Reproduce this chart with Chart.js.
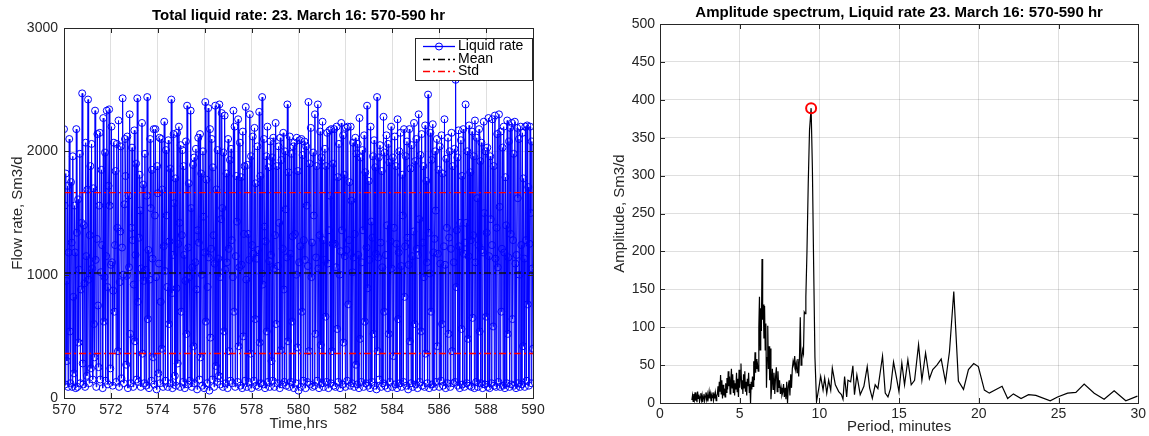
<!DOCTYPE html>
<html lang="en">
<head>
<meta charset="UTF-8">
<title>Total liquid rate and amplitude spectrum</title>
<script src="https://cdn.jsdelivr.net/npm/chart.js"></script>
<style>
  body { margin: 0; background: #fff; }
  #wrap { position: relative; width: 1149px; height: 436px; }
  canvas { position: absolute; top: 0; }
  #rateChart { left: 0; }
  #specChart { left: 575px; }
</style>
</head>
<body>
<div id="wrap">
  <canvas id="rateChart" width="575" height="436"></canvas>
  <canvas id="specChart" width="574" height="436"></canvas>
</div>
<script>
// ---- left panel: liquid rate, one sample every 0.025 hr from 570 hr ----
const startHr = 570;
const stepHr = 0.025;
const liquidRate = [
  2180, 1560, 110, 1820, 950, 300, 1720, 90, 1180, 2100, 540, 120, 1750, 1260, 90, 1960, 820, 200, 1560, 1180,
  80, 2180, 1340, 90, 1610, 450, 1040, 1980, 120, 880, 1420, 2470, 280, 110, 1400, 930, 90, 2070, 1150, 180,
  1690, 2420, 960, 120, 1320, 1880, 240, 2060, 1050, 150, 1700, 600, 330, 2330, 1120, 90, 1290, 2140, 750, 250,
  1560, 2150, 150, 1020, 1850, 1240, 80, 2270, 620, 980, 1990, 140, 1150, 2330, 900, 110, 1720, 2340, 1560, 240,
  1080, 2200, 1100, 100, 870, 2070, 700, 1240, 1840, 130, 2060, 1380, 380, 2250, 90, 940, 1350, 2040, 160, 1220,
  2430, 1000, 120, 1570, 2100, 1800, 270, 990, 2120, 80, 1640, 1060, 2300, 520, 120, 1380, 2030, 1280, 90, 920,
  2170, 460, 1160, 1900, 150, 2430, 780, 130, 1300, 1810, 1520, 90, 1050, 2230, 360, 1730, 950, 120, 1980, 1040,
  100, 1640, 2440, 640, 1200, 80, 960, 2100, 1540, 140, 1850, 1130, 330, 2180, 110, 1480, 2180, 980, 70, 1880,
  1660, 200, 1090, 2110, 120, 780, 2100, 400, 1690, 90, 1230, 2240, 1030, 140, 2010, 1480, 900, 90, 2090, 600,
  1270, 1860, 120, 2420, 850, 80, 1160, 2140, 1580, 180, 1780, 100, 890, 2150, 280, 1250, 2200, 1420, 90, 2050,
  700, 1320, 2010, 130, 1880, 1160, 80, 950, 2080, 520, 2370, 110, 1220, 1740, 980, 140, 2330, 1540, 90, 1060,
  1890, 420, 1950, 120, 1100, 2020, 880, 70, 1360, 2110, 1260, 150, 2140, 330, 1820, 1000, 100, 2000, 1470, 80,
  1180, 2400, 620, 1770, 120, 900, 2350, 1140, 60, 2180, 490, 1210, 2100, 150, 1870, 1320, 90, 1090, 2370, 260,
  1690, 130, 2010, 1130, 180, 2380, 980, 110, 1450, 2310, 1540, 90, 1990, 540, 2290, 1040, 120, 1820, 1100, 80,
  2100, 1210, 380, 1930, 140, 2020, 1280, 120, 980, 2330, 700, 2200, 90, 1150, 1800, 1430, 130, 2260, 420, 1060,
  2070, 100, 1790, 1080, 80, 2160, 500, 1330, 1880, 140, 2360, 960, 90, 1890, 1330, 130, 1120, 2300, 360, 1960,
  80, 1240, 2120, 1170, 140, 2190, 640, 1740, 100, 1130, 2040, 1200, 90, 2320, 450, 1800, 120, 1010, 2440, 920,
  110, 2100, 1390, 80, 1270, 1960, 540, 2200, 130, 1870, 1110, 90, 2080, 1160, 300, 1950, 140, 2110, 1050, 90,
  1320, 2230, 600, 1880, 120, 1070, 2040, 1420, 80, 2110, 390, 1930, 110, 1210, 2150, 880, 130, 2000, 1530, 100,
  1140, 2380, 460, 1830, 90, 2120, 1170, 130, 1980, 620, 1310, 2040, 80, 2070, 1330, 120, 1000, 2110, 410, 1840,
  60, 1100, 2090, 1230, 90, 2100, 700, 1970, 140, 1280, 2080, 1120, 80, 2040, 1560, 130, 1070, 2400, 380, 1900,
  110, 2190, 980, 1260, 90, 1990, 1480, 100, 2300, 520, 1140, 1880, 140, 2380, 1050, 80, 1320, 2160, 430, 1950,
  120, 2240, 1280, 90, 1120, 2020, 660, 1880, 130, 2150, 1090, 80, 1360, 2170, 1640, 120, 2180, 380, 1250, 1900,
  100, 2180, 1250, 90, 1060, 2200, 560, 1790, 130, 2060, 1000, 80, 1190, 2230, 1360, 110, 2130, 450, 1810, 1150,
  90, 2190, 1200, 140, 2200, 760, 1280, 1750, 100, 2200, 1600, 120, 1020, 2070, 1140, 90, 1330, 2110, 270, 1980,
  110, 2060, 1160, 80, 2270, 480, 1950, 130, 1100, 2010, 1360, 90, 2130, 620, 1830, 120, 1220, 2370, 890, 100,
  1760, 1120, 80, 2200, 1430, 130, 1300, 1960, 520, 2090, 100, 1870, 1170, 70, 2440, 380, 1140, 1950, 150, 2050,
  1260, 90, 1840, 1060, 120, 2280, 700, 1990, 100, 1160, 2130, 1400, 80, 2060, 520, 1910, 130, 1270, 2200, 1050,
  90, 1950, 340, 1380, 2120, 110, 1880, 1250, 80, 2260, 640, 1180, 2000, 120, 2150, 1070, 90, 1810, 1480, 130,
  2180, 820, 1230, 1960, 100, 2080, 1300, 70, 1080, 2180, 460, 1860, 120, 2050, 1150, 90, 1350, 2230, 600, 1920,
  110, 2100, 1210, 80, 1160, 2300, 1450, 130, 1970, 540, 2140, 100, 1260, 1880, 980, 90, 2210, 360, 1760, 1100,
  120, 2460, 1340, 80, 1010, 2150, 700, 1930, 110, 2220, 1180, 90, 1290, 2000, 1520, 130, 2100, 420, 1170, 1850,
  90, 2040, 1090, 140, 2130, 600, 1820, 100, 1230, 2260, 1080, 80, 1940, 1380, 120, 2110, 520, 1300, 2000, 90,
  1210, 2150, 380, 1880, 120, 1100, 2020, 130, 2580, 900, 1360, 1950, 100, 2170, 1230, 80, 1420, 2090, 560, 1800,
  110, 2180, 1170, 90, 1260, 2380, 1420, 120, 2000, 480, 1150, 2210, 100, 1830, 1280, 90, 2160, 650, 1320, 1960,
  80, 2250, 1100, 130, 2110, 1620, 90, 1240, 2180, 540, 1920, 120, 2070, 1200, 80, 1180, 2240, 1500, 110, 2000,
  660, 1340, 2030, 90, 2270, 1150, 80, 1960, 1450, 120, 1240, 2260, 580, 1880, 100, 2290, 1130, 90, 1380, 2140,
  1060, 130, 2300, 1550, 90, 2160, 700, 1210, 2030, 100, 2200, 1180, 80, 1790, 1400, 120, 2250, 520, 1140, 2080,
  90, 2190, 1330, 110, 2230, 640, 1280, 1980, 100, 2240, 1090, 80, 1160, 2190, 1620, 120, 2100, 1000, 90, 2200,
  1240, 110, 2150, 420, 1780, 1130, 90, 2200, 1280, 140, 2210, 760, 1710, 100, 1250, 2200, 1500, 120, 2080, 1050,
  400
];
const meanRate = 1013;
const stdRate = 652;
const rateXTicks = [570, 572, 574, 576, 578, 580, 582, 584, 586, 588, 590];
const rateYTicks = [0, 1000, 2000, 3000];
const rateLegendLabels = ['Liquid rate', 'Mean', 'Std'];

// ---- right panel: amplitude spectrum ----
const periods = [
  2.00, 2.04, 2.08, 2.12, 2.16, 2.20, 2.24, 2.28, 2.32, 2.36, 2.40, 2.44, 2.48, 2.52, 2.56, 2.60, 2.64, 2.68, 2.72, 2.76,
  2.80, 2.84, 2.88, 2.92, 2.96, 3.00, 3.04, 3.08, 3.12, 3.16, 3.20, 3.24, 3.28, 3.32, 3.36, 3.40, 3.44, 3.48, 3.52, 3.56, 3.60,
  3.64, 3.68, 3.72, 3.76, 3.80, 3.84, 3.88, 3.92, 3.96, 4.00, 4.04, 4.08, 4.12, 4.16, 4.20, 4.24, 4.28, 4.32, 4.36, 4.40,
  4.44, 4.48, 4.52, 4.56, 4.60, 4.64, 4.68, 4.72, 4.76, 4.80, 4.84, 4.88, 4.92, 4.96, 5.00,
  5.04, 5.08, 5.12, 5.16, 5.20, 5.24, 5.28, 5.32, 5.36, 5.40, 5.44, 5.48, 5.52, 5.56, 5.60, 5.64, 5.68, 5.72, 5.76, 5.80,
  5.84, 5.88, 5.92, 5.96, 6.00,
  6.04, 6.08, 6.12, 6.16, 6.20, 6.24, 6.28, 6.32, 6.36, 6.40, 6.44, 6.48, 6.52, 6.56, 6.60, 6.64, 6.68, 6.72, 6.76, 6.80,
  6.84, 6.88, 6.92, 6.96, 7.00,
  7.05, 7.10, 7.15, 7.20, 7.25, 7.30, 7.35, 7.40, 7.45, 7.50, 7.55, 7.60, 7.65, 7.70, 7.75, 7.80, 7.85, 7.90, 7.95, 8.00,
  8.05, 8.10, 8.15,
  8.20, 8.25, 8.30, 8.35, 8.40, 8.45, 8.50, 8.55, 8.60, 8.65, 8.70, 8.75, 8.80, 8.85, 8.90, 8.95, 9.00, 9.05, 9.10, 9.15,
  9.22, 9.30, 9.38, 9.48,
  9.56, 9.64, 9.72, 9.82, 9.95,
  10.08, 10.23, 10.33, 10.46, 10.58, 10.71, 10.81, 11.00, 11.21, 11.38, 11.48, 11.58, 11.71, 11.79, 11.96, 12.10, 12.20, 12.35, 12.56, 12.79,
  13.00, 13.15, 13.32, 13.50, 13.67, 13.96, 14.13, 14.30, 14.46, 14.65, 14.82, 14.99, 15.17, 15.34, 15.55, 15.76, 15.97, 16.22, 16.43, 16.66,
  16.90, 17.11, 17.37, 17.64, 17.91, 18.16, 18.43, 18.72, 19.04, 19.35, 19.68, 19.97, 20.35, 20.66, 21.46, 21.81, 22.17, 22.65, 23.12, 23.58,
  24.48, 24.94, 25.57, 26.09, 26.61, 27.24, 27.86, 28.49, 29.22, 29.95
];
const amplitudes = [
  4, 10, 2, 12, 5, 14, 3, 9, 1, 15, 6, 11, 2, 8, 13, 4, 10, 1, 7, 12,
  3, 9, 14, 5, 11, 2, 8, 15, 6, 12, 3, 10, 7, 14, 4, 11, 6, 13, 3, 9, 12,
  22, 8, 28, 15, 37, 12, 30, 6, 24, 10, 19, 8, 26, 14, 33, 18, 42, 22, 35, 12,
  28, 45, 20, 38, 14, 30, 10, 26, 18, 40, 15, 32, 8, 44, 20,
  35, 52, 18, 30, 12, 38, 20, 42, 15, 28, 10, 32, 22, 40, 14, 25, 0, 28, 18, 35,
  22, 55, 30, 67, 40,
  58, 45, 50, 42, 100, 140, 70, 125, 95, 190, 110, 130, 85, 128, 70, 105, 20, 60, 102, 45,
  75, 30, 72, 5, 20,
  45, 18, 40, 12, 35, 47, 15, 42, 20, 30, 12, 20, 10, 14, 25, 8, 20, 5, 28, 0,
  22, 30, 10,
  38, 20, 45, 55, 50, 62, 45, 52, 40, 58, 35, 60, 113, 50, 60, 70, 65, 120, 118, 140,
  200, 290, 360, 389,
  310, 180, 60, 2, 18,
  35, 17, 33, 13, 30, 17, 46, 24, 15, 11, 5, 35, 8, 30, 28, 49, 11, 37, 11, 22,
  48, 20, 6, 24, 19, 62, 13, 8, 19, 54, 35, 15, 53, 24, 57, 24, 30, 77, 30, 66,
  32, 44, 50, 58, 28, 68, 147, 29, 18, 44, 52, 48, 17, 13, 22, 6, 12, 6, 11, 10,
  3, 8, 13, 14, 25, 13, 5, 16, 3, 9
];
const specXTicks = [0, 5, 10, 15, 20, 25, 30];

Chart.defaults.font.family = 'Arial, "Liberation Sans", Helvetica, sans-serif';
Chart.defaults.color = '#262626';

const gridColor = 'rgba(38,38,38,0.15)';
const axisColor = '#262626';
const plainTick = v => String(v);

// MATLAB-like box, inward ticks and bold title
const frame = {
  id: 'frame',
  afterDatasetsDraw(chart, args, opts) {
    const { ctx, chartArea: a, scales } = chart;
    ctx.save();
    ctx.strokeStyle = axisColor;
    ctx.lineWidth = 1;
    ctx.beginPath();
    scales.x.ticks.forEach(t => {
      const px = Math.round(scales.x.getPixelForValue(t.value)) + 0.5;
      ctx.moveTo(px, a.bottom); ctx.lineTo(px, a.bottom - 5);
      ctx.moveTo(px, a.top); ctx.lineTo(px, a.top + 5);
    });
    scales.y.ticks.forEach(t => {
      const py = Math.round(scales.y.getPixelForValue(t.value)) + 0.5;
      ctx.moveTo(a.left, py); ctx.lineTo(a.left + 5, py);
      ctx.moveTo(a.right, py); ctx.lineTo(a.right - 5, py);
    });
    ctx.stroke();
    ctx.strokeRect(Math.round(a.left) + 0.5, Math.round(a.top) + 0.5,
                   Math.round(a.right - a.left), Math.round(a.bottom - a.top));
    ctx.fillStyle = '#000';
    ctx.font = 'bold 15px Arial, "Liberation Sans", sans-serif';
    ctx.textAlign = 'center';
    ctx.textBaseline = 'middle';
    ctx.fillText(opts.title, (a.left + a.right) / 2, opts.titleY);
    ctx.restore();
  }
};

// legend box in the top right corner of the left panel
const rateLegend = {
  id: 'rateLegend',
  afterDraw(chart) {
    const ctx = chart.ctx;
    const bx = 415.5, by = 38.5, bw = 117, bh = 42;
    ctx.save();
    ctx.fillStyle = '#fff';
    ctx.fillRect(bx, by, bw, bh);
    ctx.strokeStyle = axisColor;
    ctx.lineWidth = 1;
    ctx.strokeRect(bx, by, bw, bh);
    const styles = [
      { color: '#0000ff', dash: [], marker: true },
      { color: '#000000', dash: [7, 3, 2, 3], marker: false },
      { color: '#ff0000', dash: [7, 3, 2, 3], marker: false }
    ];
    ctx.font = '14px Arial, "Liberation Sans", sans-serif';
    ctx.textBaseline = 'middle';
    ctx.textAlign = 'left';
    rateLegendLabels.forEach((label, i) => {
      const y = Math.round(46 + i * 12.5) + 0.5;
      const s = styles[i];
      ctx.strokeStyle = s.color;
      ctx.lineWidth = 1.3;
      ctx.setLineDash(s.dash);
      ctx.beginPath();
      ctx.moveTo(423, y); ctx.lineTo(455, y);
      ctx.stroke();
      ctx.setLineDash([]);
      if (s.marker) {
        ctx.lineWidth = 1;
        ctx.beginPath();
        ctx.arc(439, y, 3.5, 0, Math.PI * 2);
        ctx.stroke();
      }
      ctx.fillStyle = '#000';
      ctx.fillText(label, 458, y);
    });
    ctx.restore();
  }
};

const ratePoints = liquidRate.map((v, i) => ({ x: startHr + i * stepHr, y: v }));
const endHr = startHr + (liquidRate.length - 1) * stepHr;
const hLine = y => [{ x: startHr, y: y }, { x: endHr, y: y }];

new Chart(document.getElementById('rateChart'), {
  type: 'line',
  data: {
    datasets: [
      {
        label: rateLegendLabels[0], data: ratePoints, order: 2,
        borderColor: '#0000ff', borderWidth: 1,
        pointRadius: 3.5, pointBorderColor: '#0000ff', pointBorderWidth: 1,
        pointBackgroundColor: 'rgba(0,0,0,0)'
      },
      {
        label: rateLegendLabels[1], data: hLine(meanRate), order: 1,
        borderColor: '#111111', borderWidth: 1.5, borderDash: [7, 3, 2, 3], pointRadius: 0
      },
      {
        label: rateLegendLabels[2], data: hLine(meanRate + stdRate), order: 1,
        borderColor: '#ff0000', borderWidth: 1.3, borderDash: [7, 3, 2, 3], pointRadius: 0
      },
      {
        label: rateLegendLabels[2], data: hLine(meanRate - stdRate), order: 1,
        borderColor: '#ff0000', borderWidth: 1.3, borderDash: [7, 3, 2, 3], pointRadius: 0
      }
    ]
  },
  options: {
    responsive: false,
    animation: false,
    layout: { padding: { top: 28, right: 42, left: 0, bottom: 0 } },
    scales: {
      x: {
        type: 'linear', min: 570, max: 590,
        afterBuildTicks: s => { s.ticks = rateXTicks.map(v => ({ value: v })); },
        afterFit: s => { s.height = 38; },
        ticks: { autoSkip: false, maxRotation: 0, padding: 4, font: { size: 14 }, color: axisColor, callback: plainTick },
        grid: { color: gridColor, drawTicks: false },
        border: { display: false },
        title: { display: true, text: 'Time,hrs', font: { size: 15 }, color: axisColor, padding: { top: 0, bottom: 3 } }
      },
      y: {
        min: 0, max: 3000,
        afterBuildTicks: s => { s.ticks = rateYTicks.map(v => ({ value: v })); },
        afterFit: s => { s.width = 64; },
        ticks: { padding: 6, font: { size: 14 }, color: axisColor, callback: plainTick },
        grid: { color: gridColor, drawTicks: false },
        border: { display: false },
        title: { display: true, text: 'Flow rate, Sm3/d', font: { size: 15 }, color: axisColor, padding: { top: 9, bottom: 0 } }
      }
    },
    plugins: {
      legend: { display: false },
      tooltip: { enabled: false },
      frame: { title: 'Total liquid rate: 23. March 16: 570-590 hr', titleY: 16 }
    }
  },
  plugins: [frame, rateLegend]
});

const specPoints = periods.map((p, i) => ({ x: p, y: amplitudes[i] }));
const peakIdx = amplitudes.indexOf(Math.max(...amplitudes));

new Chart(document.getElementById('specChart'), {
  type: 'line',
  data: {
    datasets: [
      {
        label: 'Spectrum', data: specPoints, order: 2,
        borderColor: '#000000', borderWidth: 1.2, pointRadius: 0
      },
      {
        label: 'Peak', data: [specPoints[peakIdx]], order: 1, showLine: false,
        pointRadius: 5, pointBorderWidth: 2, pointBorderColor: '#ff0000',
        pointBackgroundColor: 'rgba(0,0,0,0)'
      }
    ]
  },
  options: {
    responsive: false,
    animation: false,
    layout: { padding: { top: 24, right: 10, left: 0, bottom: 0 } },
    scales: {
      x: {
        type: 'linear', min: 0, max: 30,
        afterBuildTicks: s => { s.ticks = specXTicks.map(v => ({ value: v })); },
        afterFit: s => { s.height = 33; },
        ticks: { autoSkip: false, maxRotation: 0, padding: 3, font: { size: 14 }, color: axisColor, callback: plainTick },
        grid: { color: gridColor, drawTicks: false },
        border: { display: false },
        title: { display: true, text: 'Period, minutes', font: { size: 15 }, color: axisColor, padding: { top: 0, bottom: 0 } }
      },
      y: {
        min: 0, max: 500,
        ticks: { stepSize: 50, padding: 5, font: { size: 14 }, color: axisColor, callback: plainTick },
        afterFit: s => { s.width = 85; },
        grid: { color: gridColor, drawTicks: false },
        border: { display: false },
        title: { display: true, text: 'Amplitude, Sm3/d', font: { size: 15 }, color: axisColor, padding: { top: 36, bottom: 0 } }
      }
    },
    plugins: {
      legend: { display: false },
      tooltip: { enabled: false },
      frame: { title: 'Amplitude spectrum, Liquid rate 23. March 16: 570-590 hr', titleY: 13 }
    }
  },
  plugins: [frame]
});
</script>
</body>
</html>
